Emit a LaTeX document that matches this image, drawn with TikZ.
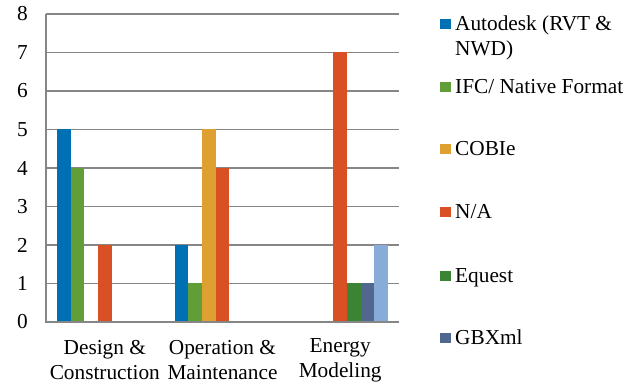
\documentclass[tikz,border=0pt]{standalone}
\usepackage{fontspec}
\setmainfont{Liberation Serif}
\definecolor{gridGray}{RGB}{134,134,134}
\definecolor{barAutodesk}{RGB}{0,112,180}
\definecolor{barIFC}{RGB}{98,158,56}
\definecolor{barCOBIe}{RGB}{222,160,48}
\definecolor{barNA}{RGB}{216,80,36}
\definecolor{barEquest}{RGB}{58,132,52}
\definecolor{barGBXml}{RGB}{80,104,144}
\definecolor{barOther}{RGB}{136,172,216}
\newcommand{\chartfont}{\fontsize{21.3}{25}\selectfont}

\begin{document}
\begin{tikzpicture}[x=1pt, y=1pt,
  gridline/.style={draw=gridGray, line width=1.2pt},
  ylab/.style={anchor=east, inner sep=0pt, font=\chartfont},
  catlab/.style={align=center, inner sep=0pt, font=\chartfont},
  legkey/.style={inner sep=0pt, minimum size=10.7pt},
  legtext/.style={anchor=base west, align=left, inner sep=0pt, font=\chartfont}]
\useasboundingbox (0,0) rectangle (640,387);
%
\draw [gridline] (46,103.5) -- (399,103.5);
\draw [gridline] (46,142) -- (399,142);
\draw [gridline] (46,180.5) -- (399,180.5);
\draw [gridline] (46,219) -- (399,219);
\draw [gridline] (46,257.5) -- (399,257.5);
\draw [gridline] (46,296) -- (399,296);
\draw [gridline] (46,334.5) -- (399,334.5);
\draw [gridline] (46,373) -- (399,373);
%
% Design & Construction
\fill [barAutodesk] (56.8,65) rectangle (70.5,257.5);
\fill [barIFC] (70.5,65) rectangle (84.3,219);
\fill [barNA] (98.0,65) rectangle (111.7,142);
% Operation & Maintenance
\fill [barAutodesk] (174.5,65) rectangle (188.2,142);
\fill [barIFC] (188.2,65) rectangle (201.9,103.5);
\fill [barCOBIe] (201.9,65) rectangle (215.6,257.5);
\fill [barNA] (215.6,65) rectangle (229.4,219);
% Energy Modeling
\fill [barNA] (333.3,65) rectangle (347.0,334.5);
\fill [barEquest] (347.0,65) rectangle (360.7,103.5);
\fill [barGBXml] (360.7,65) rectangle (374.4,103.5);
\fill [barOther] (374.4,65) rectangle (388.1,142);
%
\draw [gridline] (46,373) -- (46,65) -- (399,65);
%
\node [ylab] (ylab0) at (28,65) {0};
\node [ylab] (ylab1) at (28,103.5) {1};
\node [ylab] (ylab2) at (28,142) {2};
\node [ylab] (ylab3) at (28,180.5) {3};
\node [ylab] (ylab4) at (28,219) {4};
\node [ylab] (ylab5) at (28,257.5) {5};
\node [ylab] (ylab6) at (28,296) {6};
\node [ylab] (ylab7) at (28,334.5) {7};
\node [ylab] (ylab8) at (28,373) {8};
%
\node [catlab] (catDC) at (104.8,27) {Design \&\\Construction};
\node [catlab] (catOM) at (222.5,27) {Operation \&\\Maintenance};
\node [catlab] (catEM) at (340.2,27) {Energy\\Modeling};
%
\node [legkey, fill=barAutodesk] (keyAutodesk) at (445.3,363) {};
\node [legkey, fill=barIFC] (keyIFC) at (445.3,300) {};
\node [legkey, fill=barCOBIe] (keyCOBIe) at (445.3,238) {};
\node [legkey, fill=barNA] (keyNA) at (445.3,175) {};
\node [legkey, fill=barEquest] (keyEquest) at (445.3,111) {};
\node [legkey, fill=barGBXml] (keyGBXml) at (445.3,49) {};
\node [legtext] (legAutodesk) at (455,331) {Autodesk (RVT \&\\NWD)};
\node [legtext] (legIFC) at (455,293) {IFC/ Native Format};
\node [legtext] (legCOBIe) at (455,231) {COBIe};
\node [legtext] (legNA) at (455,168) {N/A};
\node [legtext] (legEquest) at (455,104) {Equest};
\node [legtext] (legGBXml) at (455,42) {GBXml};
%
\end{tikzpicture}
\end{document}
